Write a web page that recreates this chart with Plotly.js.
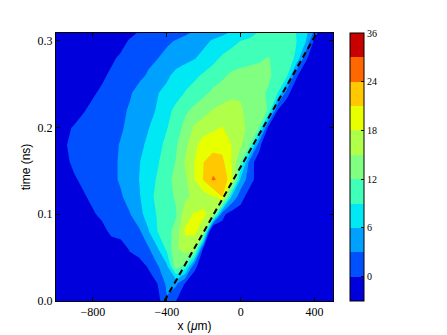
<!DOCTYPE html>
<html><head><meta charset="utf-8">
<script src="https://cdn.plot.ly/plotly-3.0.1.min.js"></script>
<style>html,body{margin:0;padding:0;background:#fff}</style></head>
<body><div id="chart" style="width:447px;height:335px"></div>
<script>
var xPositions=[-1000,-950,-900,-850,-800,-750,-700,-650,-600,-550,-500,-450,-400,-350,-300,-250,-200,-150,-100,-50,0,50,100,150,200,250,300,350,400,450,500];
var times=[0,.02,.04,.06,.08,.10,.12,.14,.16,.18,.20,.22,.24,.26,.28,.30,.31];
// signal expressed as colour-band index (band n spans n..n+1)
var t000=[.5,.5,.5,.5,.5,.5,.5,.5,.5,.5,.5,.6,1.9,1.0,.5,.5,.5,.5,.5,.5,.5,.5,.5,.5,.5,.5,.5,.5,.5,.5,.5];
var t002=[.5,.5,.5,.5,.5,.5,.5,.5,.5,.5,.5,1.0,2.2,2.2,.9,.5,.5,.5,.5,.5,.5,.5,.5,.5,.5,.5,.5,.5,.5,.5,.5];
var t004=[.5,.5,.5,.5,.5,.5,.5,.5,.5,.5,1.1,1.9,2.8,5.6,4.6,1.2,.5,.5,.5,.5,.5,.5,.5,.5,.5,.5,.5,.5,.5,.5,.5];
var t006=[.5,.5,.5,.5,.5,.5,.5,.5,1.1,1.5,1.85,2.9,4.2,5.8,6.5,6.2,.5,.5,.5,.5,.5,.5,.5,.5,.5,.5,.5,.5,.5,.5,.5];
var t008=[.5,.5,.5,.5,.5,.7,1.2,1.4,1.6,1.8,2.9,4.0,4.6,5.4,7.15,7.25,6.3,-2,.5,.5,.5,.5,.5,.5,.5,.5,.5,.5,.5,.5,.5];
var t010=[.5,.5,.5,.5,.9,1.2,1.4,1.6,1.95,2.7,3.4,4.1,4.5,4.9,6.6,7.1,7.2,6.6,1.3,.5,.5,.5,.5,.5,.5,.5,.5,.5,.5,.5,.5];
var t012=[.5,.5,.5,.9,1.2,1.4,1.6,1.9,2.3,2.9,3.6,4.3,4.7,5.1,5.8,6.2,6.5,7.0,8.0,3.0,1.4,.5,.5,.5,.5,.5,.5,.5,.5,.5,.5];
var t014=[.5,.5,.9,1.2,1.4,1.6,1.8,2.1,2.5,3.0,3.6,4.1,4.7,5.3,5.8,7.0,8.1,9.15,8.7,7.5,2.8,1.4,.5,.5,.5,.5,.5,.5,.5,.5,.5];
var t016=[.5,.8,1.2,1.3,1.5,1.65,1.8,2.1,2.4,2.95,3.4,3.9,4.5,5.05,6.1,7.0,8.0,8.5,8.3,7.0,5.0,1.5,.4,.5,.5,.5,.5,.5,.5,.5,.5];
var t018=[.7,.95,1.2,1.35,1.5,1.65,1.8,2.05,2.3,2.75,3.2,3.7,4.25,4.9,5.7,6.8,7.4,7.6,7.6,7.0,6.2,5.0,1.4,-.5,.5,.5,.5,.5,.5,.5,.5];
var t020=[.5,.8,1.1,1.25,1.4,1.55,1.7,1.9,2.2,2.55,2.95,3.4,3.95,4.45,5.35,6.15,6.6,6.8,7.05,6.6,6.3,5.7,5.0,.8,.3,.5,.5,.5,.5,.5,.5];
var t022=[.5,.5,.5,.95,1.2,1.4,1.55,1.8,2.1,2.35,2.7,3.1,3.7,4.25,4.8,5.25,5.6,6.05,6.3,6.4,6.1,5.7,5.3,4.95,1.0,.0,.5,.5,.5,.5,.5];
var t024=[.5,.5,.5,.5,.9,1.15,1.4,1.6,1.9,2.3,2.6,2.95,3.3,3.6,4.05,4.4,4.8,5.2,5.45,5.75,5.9,5.6,5.2,4.9,4.05,1.5,.0,.5,.5,.5,.5];
var t026=[.5,.5,.5,.5,.5,.85,1.15,1.4,1.6,1.8,2.1,2.4,2.8,3.3,3.6,3.8,4.15,4.5,4.8,5.2,5.35,5.4,5.4,5.15,4.7,4.2,1.3,-.2,.5,.5,.5];
var t028=[.5,.5,.5,.5,.5,.5,.85,1.15,1.4,1.6,1.8,1.98,2.25,2.5,2.7,2.95,3.3,3.7,4.15,4.4,4.55,4.7,4.85,5.05,4.7,4.3,3.9,1.4,-.2,.5,.5];
var t030=[.5,.5,.5,.5,.5,.5,.5,.65,1.1,1.3,1.5,1.65,1.85,2.05,2.25,2.5,2.75,3.1,3.35,3.7,4.0,4.2,4.3,4.4,4.4,4.3,4.05,3.2,.8,-.3,.5];
var t031=[.5,.5,.5,.5,.5,.5,.5,.5,.7,1.05,1.2,1.35,1.5,1.65,1.85,2.05,2.25,2.5,2.75,3.05,3.3,3.6,4.05,4.2,4.25,4.2,4.0,3.4,1.8,-.3,.5];
var bandColors=['#0000dc','#0050ff','#00a0ff','#00e8f4','#40ffb8','#80ff80','#b0ff48','#e8ff00','#ffc800','#ff6800','#c80000'];
var barTickBands=[1,3,5,7,9,11];
var barTickLabels=['0','6','12','18','24','36'];
var fitX=[-413,412];
var fitT=[0,.309];
var xTicks=[-800,-400,0,400];
var yTicks=[0,.1,.2,.3];

var scale=[];
bandColors.forEach(function(c,i){scale.push([i/11,c]);scale.push([(i+1)/11,c]);});
var serif='Liberation Serif, serif';
var sans='Liberation Sans, Arial, sans-serif';
Plotly.newPlot('chart',[
 {type:'contour',x:xPositions,y:times,
  z:[t000,t002,t004,t006,t008,t010,t012,t014,t016,t018,t020,t022,t024,t026,t028,t030,t031],
  autocontour:false,contours:{start:0,end:11,size:1,coloring:'fill',showlines:false},
  line:{width:0,smoothing:0},colorscale:scale,zmin:0,zmax:11,hoverinfo:'skip',
  colorbar:{x:1.063,xanchor:'left',y:0,yanchor:'bottom',len:1,lenmode:'fraction',thickness:14,thicknessmode:'pixels',
   xpad:0,ypad:0,outlinecolor:'#000',outlinewidth:1,borderwidth:0,
   tickmode:'array',tickvals:barTickBands,ticktext:barTickLabels,ticks:'inside',ticklen:3,tickcolor:'#000',
   tickfont:{family:serif,size:10,color:'#000'}}},
 {type:'scatter',mode:'lines',x:fitX,y:fitT,line:{color:'#000',width:2,dash:'6px,4px'},hoverinfo:'skip',showlegend:false}
],{
 width:447,height:335,showlegend:false,paper_bgcolor:'#fff',plot_bgcolor:'#0000dc',
 margin:{l:55.5,r:113.5,t:33,b:34,pad:0},
 xaxis:{range:[-1000,500],tickmode:'array',tickvals:xTicks,ticks:'inside',ticklen:4,tickcolor:'#000',showgrid:false,zeroline:false,
  showline:true,linecolor:'#000',linewidth:1,mirror:'ticks',tickfont:{family:serif,size:12,color:'#000'},
  title:{text:'x (<i>μ</i>m)',font:{family:sans,size:12,color:'#000'},standoff:2}},
 yaxis:{range:[0,.309],tickmode:'array',tickvals:yTicks,tickformat:'.1f',ticks:'inside',ticklen:4,tickcolor:'#000',showgrid:false,zeroline:false,
  showline:true,linecolor:'#000',linewidth:1,mirror:'ticks',tickfont:{family:serif,size:12,color:'#000'},
  title:{text:'time (ns)',font:{family:sans,size:12,color:'#000'},standoff:4}}
},{displayModeBar:false,staticPlot:true});
</script></body></html>
